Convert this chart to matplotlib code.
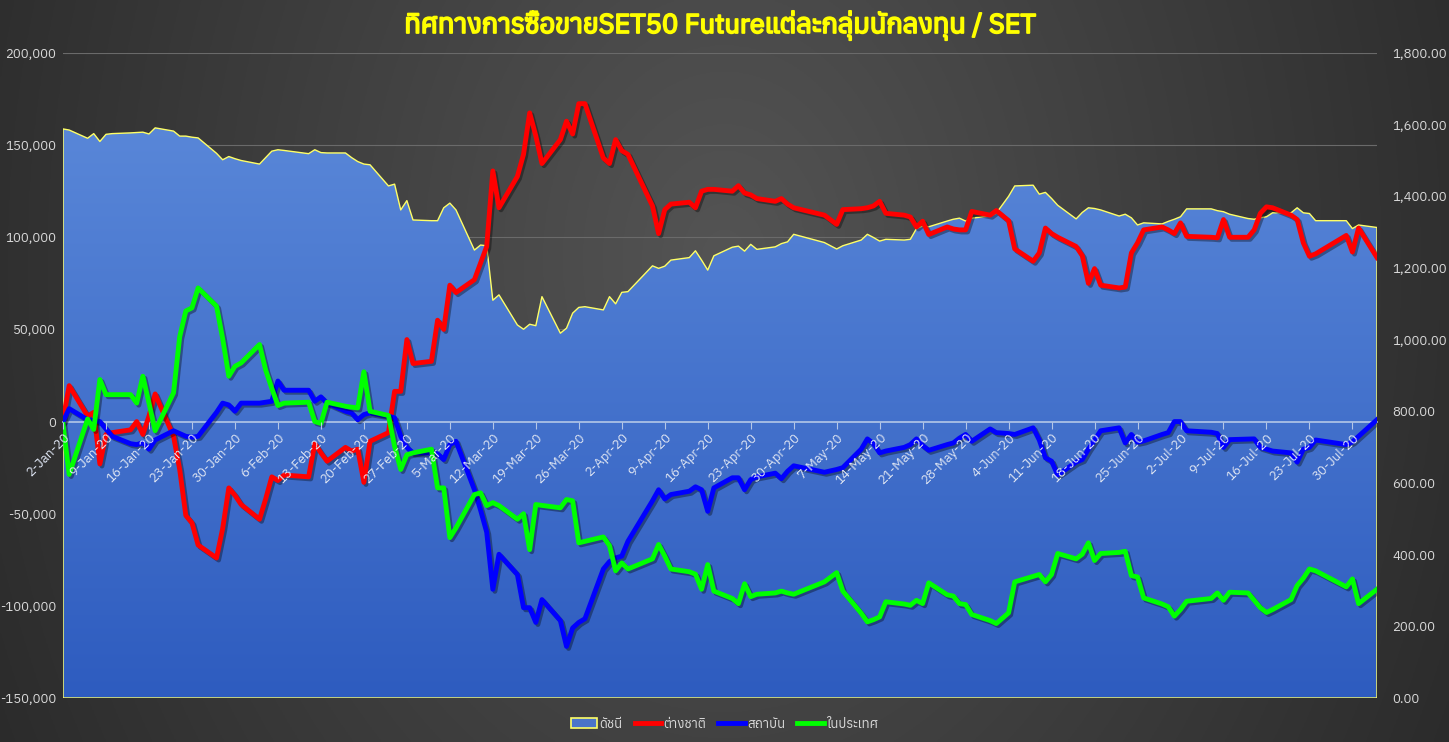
import numpy as np
import pandas as pd
import matplotlib
matplotlib.use("Agg")
import matplotlib.pyplot as plt
import matplotlib.dates as mdates
import matplotlib.patheffects as pe
from matplotlib import font_manager
from matplotlib.ft2font import FT2Font
from matplotlib.transforms import blended_transform_factory
from matplotlib.patches import Patch
from matplotlib.lines import Line2D

# trading days, Thai market holidays removed
holidays = ["2020-02-10", "2020-04-06", "2020-05-01", "2020-05-04", "2020-05-06",
            "2020-06-03", "2020-07-06", "2020-07-27", "2020-07-28"]
dates = pd.bdate_range("2020-01-02", "2020-08-03")
dates = dates[~dates.isin(pd.to_datetime(holidays))]

labels = ["ดัชนี", "ต่างชาติ", "สถาบัน", "ในประเทศ"]
title = "ทิศทางการซื้อขายSET50 Futureแต่ละกลุ่มนักลงทุน / SET"

set_index = [
    1588, 1585, 1562, 1575, 1553, 1573, 1575, 1577, 1578, 1579, 1574, 1591, 1582, 1568, 1568, 1565, 1563, 1520, 1502, 1511, 1505, 1500,
    1490, 1508, 1526, 1530, 1528, 1519, 1530, 1522, 1521, 1521, 1508, 1497, 1490, 1488, 1429, 1434, 1362, 1388, 1334,
    1332, 1332, 1368, 1381, 1362, 1250, 1264, 1262, 1110, 1125, 1041, 1029, 1043, 1039, 1120, 1018, 1032, 1074, 1090, 1092, 1083, 1120,
    1100, 1132, 1134, 1206, 1199, 1205, 1222, 1229, 1248, 1222, 1194, 1234, 1258, 1261, 1247, 1266, 1252, 1259, 1268, 1273, 1294,
    1271, 1253, 1262, 1278, 1294, 1285, 1275, 1280, 1278, 1280, 1310, 1317, 1315, 1331, 1336, 1339, 1331, 1339,
    1345, 1353, 1400, 1429, 1431, 1406, 1411, 1394, 1375, 1337, 1355, 1368, 1366, 1362, 1345, 1350, 1340, 1320, 1326, 1323, 1330,
    1336, 1343, 1365, 1365, 1360, 1357, 1350, 1338, 1336, 1340, 1343, 1354, 1354, 1368, 1354, 1352, 1332, 1332, 1310, 1320,
    1313]

foreign = [
    1000, 19500, 3000, 5000, -23000, -7000, -6000, -4500, 0, -7000, 3000, 15000, -8000, -26000, -51000, -55000, -67000, -74000, -58000, -36000, -40000, -45000,
    -53000, -42000, -30000, -32000, -29000, -30000, -12000, -17000, -21500, -14000, -16000, -15000, -33000, -10700, -6000, 16400, 16400, 44500, 31500,
    32700, 55000, 50000, 74000, 70000, 77000, 86000, 95000, 136000, 116000, 133000, 145000, 167500, 155000, 140000, 153000, 163000, 156000, 172500, 172500, 143000, 140000,
    153000, 147000, 145000, 117000, 102000, 115000, 118000, 119000, 116000, 125000, 126000, 126000, 125000, 128000, 124000, 123000, 121000, 119500, 121000, 118000, 116000,
    112000, 107000, 115000, 115500, 116000, 117000, 119500, 113000, 112000, 111000, 105600, 108700, 101500, 105600, 104500, 104000, 104000, 114000,
    112000, 114500, 109000, 93700, 87000, 91500, 105000, 102000, 100000, 95000, 90000, 75000, 83000, 74000, 72500, 73000, 91500, 97000, 104000, 105600, 104000,
    102000, 107800, 100500, 100000, 99700, 109600, 100000, 100000, 104000, 113000, 116500, 116000, 112000, 109600, 97000, 89700, 91000, 101000, 92000, 105000,
    89000]

institution = [
    0, 7000, 1000, 500, 0, -4000, -8000, -12000, -12500, -11500, -15000, -10000, -5000, -6500, -8000, -8500, -8000, 5000, 10000, 9000, 5600, 10000,
    10000, 10500, 11000, 22000, 17000, 17000, 11000, 13400, 10000, 5600, 4700, 1000, 3800, 4700, 3000, 2000, -8000, -14000, -17000,
    -17000, -17500, -20600, -12500, -10700, -37000, -48000, -60000, -91000, -72000, -83000, -101000, -101000, -109000, -96600, -108000, -122000, -112000, -109000, -107000, -80000, -76000,
    -74000, -73000, -65000, -43000, -37000, -42000, -39600, -37800, -35400, -37000, -48700, -36000, -30500, -30500, -37000, -31500, -30000, -28000, -31000, -27000, -24000,
    -27500, -26000, -25000, -15000, -9400, -12000, -17000, -16000, -14000, -12500, -9400, -13000, -15600, -12500, -11600, -9000, -7000, -10700,
    -4000, -6000, -6500, -7000, -3400, -10000, -19700, -21500, -29000, -22000, -20600, -15000, -10000, -5000, -3400, -11600, -7000, -11200, -10500, -7000, -6000,
    0, 0, -5000, -5800, -6500, -14000, -9800, -9500, -9400, -14000, -15000, -16000, -17000, -22000, -15000, -14000, -10000, -12500, -11000, -8000,
    1000]

local = [
    -1600, -28700, 1400, -4300, 22800, 14600, 14600, 14600, 10000, 24600, 10000, -5000, 15600, 46000, 60000, 61700, 72500, 62600, 45000, 24600, 30000, 31800,
    41800, 28000, 18000, 8700, 10000, 10500, 0, -1000, 10500, 8300, 7800, 7400, 27000, 5600, 3300, -13400, -26000, -18000, -17000,
    -15000, -36000, -36000, -63000, -57700, -39600, -38700, -45600, -44000, -45600, -53000, -50000, -69500, -45000, -45500, -46800, -42300, -43000, -65800, -65000, -62600, -67300,
    -81000, -76700, -80000, -74500, -66700, -73000, -80000, -81500, -82800, -91000, -77600, -92000, -96000, -98800, -88000, -95000, -93700, -93000, -92000, -93000, -93700,
    -87000, -82000, -92000, -104000, -108700, -107500, -106000, -97800, -99000, -99700, -97000, -98800, -87500, -94000, -94700, -98800, -99300, -104700,
    -108000, -109600, -103800, -87000, -84000, -83000, -87000, -83000, -71600, -74500, -72000, -65800, -75400, -71600, -71000, -70400, -83600, -84300, -95700, -99000, -100500,
    -105600, -102000, -97500, -96000, -93000, -97000, -92600, -93000, -97000, -101000, -103600, -102000, -96600, -89000, -85000, -80000, -81000, -89700, -85400, -98800,
    -91000]

# find a font that has Thai glyphs
thai = []
for f in font_manager.fontManager.ttflist:
    try:
        if FT2Font(f.fname).get_char_index(0x0E17):
            thai.append(f.name)
    except Exception:
        pass
plt.rcParams["font.family"] = sorted(set(thai))[:1] + ["DejaVu Sans"]

fig = plt.figure(figsize=(14.49, 7.42), dpi=100)

# dark background gradient
bg = fig.add_axes([0, 0, 1, 1], zorder=-10)
yy, xx = np.mgrid[0:1:300j, 0:1:600j]
r = np.sqrt(((xx - 0.5) / 0.5) ** 2 * 0.8 + ((yy - 0.35) / 0.65) ** 2 * 0.2)
v = 0.33 - 0.16 * r
bg.imshow(np.dstack([v, v, v]), aspect="auto", extent=[0, 1, 0, 1])
bg.axis("off")

ax2 = fig.add_axes([0.0435, 0.0593, 0.9068, 0.8693])
ax = fig.add_axes([0.0435, 0.0593, 0.9068, 0.8693], sharex=ax2)
ax.set_zorder(ax2.get_zorder() + 1)
ax.patch.set_visible(False)
ax2.patch.set_visible(False)
ax.set_axisbelow(False)

x0, x1 = dates[0], dates[-1]
ax.set_ylim(-150000, 200000)

# grid of the left axis, drawn under the area
tr = blended_transform_factory(ax2.transAxes, ax.transData)
for g in range(-150000, 200001, 50000):
    ax2.plot([0, 1], [g, g], transform=tr, color="#6a6a6a", lw=0.8, zorder=0)

# SET index area with gradient fill
poly = ax2.fill_between(dates, set_index, 0, facecolor="none", edgecolor="#ffff66", lw=1.0, zorder=2)
grad = np.linspace(0, 1, 256).reshape(-1, 1)
top = np.array([0.37, 0.55, 0.86])
bot = np.array([0.18, 0.36, 0.75])
img = (top * (1 - grad) + bot * grad)[:, None, :]
im = ax2.imshow(img, aspect="auto", zorder=1,
                extent=[mdates.date2num(x0), mdates.date2num(x1), 0, 1800])
im.set_clip_path(poly.get_paths()[0], transform=ax2.transData)
ax2.set_xlim(x0, x1)
ax2.set_ylim(0, 1800)

# investor lines
shadow = [pe.SimpleLineShadow(offset=(1.5, -1.5), alpha=0.35), pe.Normal()]
ax.plot(dates, foreign, color="#ff0000", lw=3.5, path_effects=shadow, solid_joinstyle="round")
ax.plot(dates, institution, color="#0000ff", lw=3.5, path_effects=shadow, solid_joinstyle="round")
ax.plot(dates, local, color="#00ff00", lw=3.5, path_effects=shadow, solid_joinstyle="round")

# axes styling
for s in ["top", "left", "right"]:
    ax.spines[s].set_visible(False)
for s in ax2.spines.values():
    s.set_visible(False)
ax.spines["bottom"].set_position(("data", 0))
ax.spines["bottom"].set_color("#b4c7e7")
ax.spines["bottom"].set_linewidth(1.2)
ax.spines["bottom"].set_zorder(1.5)

ticks = pd.date_range("2020-01-02", "2020-08-03", freq="7D")
ax.set_xticks(ticks)
ax.set_xticklabels([f"{d.day}-{d.strftime('%b-%y')}" for d in ticks],
                   rotation=45, ha="right", va="top", rotation_mode="anchor",
                   fontsize=9.5)
ax.tick_params(axis="x", colors="#b4c7e7", length=5, direction="out", pad=2, labelcolor="#dde4f2")
ax2.tick_params(axis="x", bottom=False, labelbottom=False)

ax.set_yticks(range(-150000, 200001, 50000))
ax.set_yticklabels([f"{t:,}" for t in range(-150000, 200001, 50000)])
ax.tick_params(axis="y", length=0, pad=5, labelsize=9.5, labelcolor="#d9d9d9")

ax2.yaxis.tick_right()
ax2.set_yticks(range(0, 1801, 200))
ax2.set_yticklabels([f"{t:,.2f}" for t in range(0, 1801, 200)])
ax2.tick_params(axis="y", length=0, pad=11, labelsize=9.5, labelcolor="#d9d9d9")

fig.text(0.497, 0.966, title, ha="center", va="center", color="#ffff00",
         fontsize=19.5, fontweight="bold",
         path_effects=[pe.withStroke(linewidth=1.3, foreground="#ffff00")])

handles = [Patch(facecolor="#4a74c9", edgecolor="#ffff66", lw=1.2),
           Line2D([], [], color="#ff0000", lw=3.5),
           Line2D([], [], color="#0000ff", lw=3.5),
           Line2D([], [], color="#00ff00", lw=3.5)]
fig.legend(handles, labels, loc="center", bbox_to_anchor=(0.5, 1 - 724 / 742), ncol=4,
           frameon=False, labelcolor="#d9d9d9", fontsize=9.5, handlelength=2.0,
           columnspacing=0.9, handletextpad=0.2)

fig.savefig("out.png", dpi=100)
